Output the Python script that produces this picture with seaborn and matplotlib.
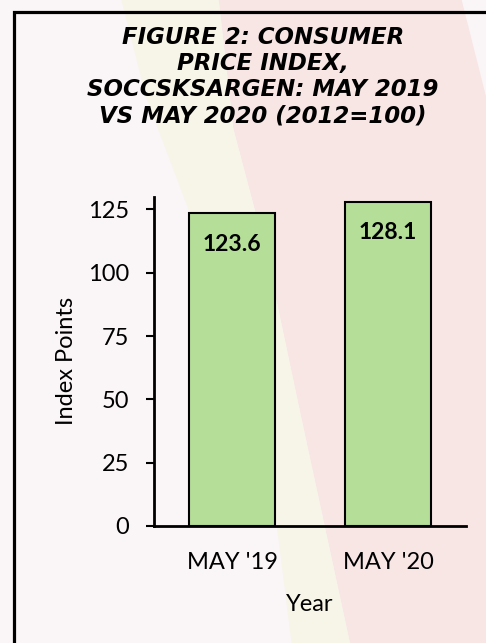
import matplotlib
matplotlib.use("Agg")
import matplotlib.pyplot as plt
import seaborn as sns
from matplotlib.patches import Rectangle, Polygon

# chart data
periods = ["MAY '19", "MAY '20"]
cpi_values = [123.6, 128.1]
y_ticks = [0, 25, 50, 75, 100, 125]
title_lines = ["FIGURE 2: CONSUMER", "PRICE INDEX,",
               "SOCCSKSARGEN: MAY 2019", "VS MAY 2020 (2012=100)"]

sns.set_theme(style="ticks")
plt.rcParams['font.family'] = ['Lato', 'DejaVu Sans']

fig = plt.figure(figsize=(4.86, 6.43), dpi=100)
fig.patch.set_facecolor('#faf6f7')

# faint watermark behind the chart
fig.add_artist(Polygon([(0.45, 1.0), (0.95, 1.0), (1.0, 0.85), (1.0, 0.0), (0.72, 0.0),
                        (0.62, 0.35), (0.55, 0.6), (0.48, 0.8)],
                       closed=True, transform=fig.transFigure, fc='#f8e6e5', ec='none', zorder=-2))
fig.add_artist(Polygon([(0.25, 1.0), (0.45, 1.0), (0.48, 0.8), (0.55, 0.6), (0.62, 0.35),
                        (0.72, 0.0), (0.6, 0.0), (0.55, 0.3), (0.45, 0.55), (0.3, 0.85)],
                       closed=True, transform=fig.transFigure, fc='#f7f4e8', ec='none', zorder=-2))

# border box (cut off on the right and bottom)
fig.add_artist(Rectangle((14 / 486, -0.1), 1.2, 0.9813 + 0.1, transform=fig.transFigure,
                         fill=False, lw=2.3, ec='black', clip_on=False))

ax = fig.add_axes([0.317, 0.182, 0.642, 0.512])
ax.set_facecolor('none')
sns.barplot(x=periods, y=cpi_values, color='#b5df98', saturation=1,
            edgecolor='black', linewidth=1.5, width=0.555, ax=ax)

ax.bar_label(ax.containers[0], fmt='%.1f', padding=-30, fontsize=16.5, fontweight='bold', color='black')

ax.set_ylim(0, 130)
ax.set_xlim(-0.5, 1.5)
ax.set_yticks(y_ticks)
ax.tick_params(axis='y', length=6, width=1.5, color='black', labelsize=17, pad=12, labelcolor='black')
ax.tick_params(axis='x', length=0, labelsize=17, pad=19, labelcolor='black')
for spine in ['top', 'right']:
    ax.spines[spine].set_visible(False)
for spine in ['left', 'bottom']:
    ax.spines[spine].set_linewidth(2)
    ax.spines[spine].set_color('black')

ax.set_xlabel('Year', fontsize=17, labelpad=15, color='black')
ax.set_ylabel('Index Points', fontsize=17, labelpad=8, color='black')

fig.text(0.541, 0.881, "\n".join(title_lines), ha='center', va='center', multialignment='center',
         fontsize=16.5, fontweight='bold', fontstyle='italic', family='DejaVu Sans',
         linespacing=1.17, color='black')

fig.savefig('out.png', dpi=100, facecolor=fig.get_facecolor())
